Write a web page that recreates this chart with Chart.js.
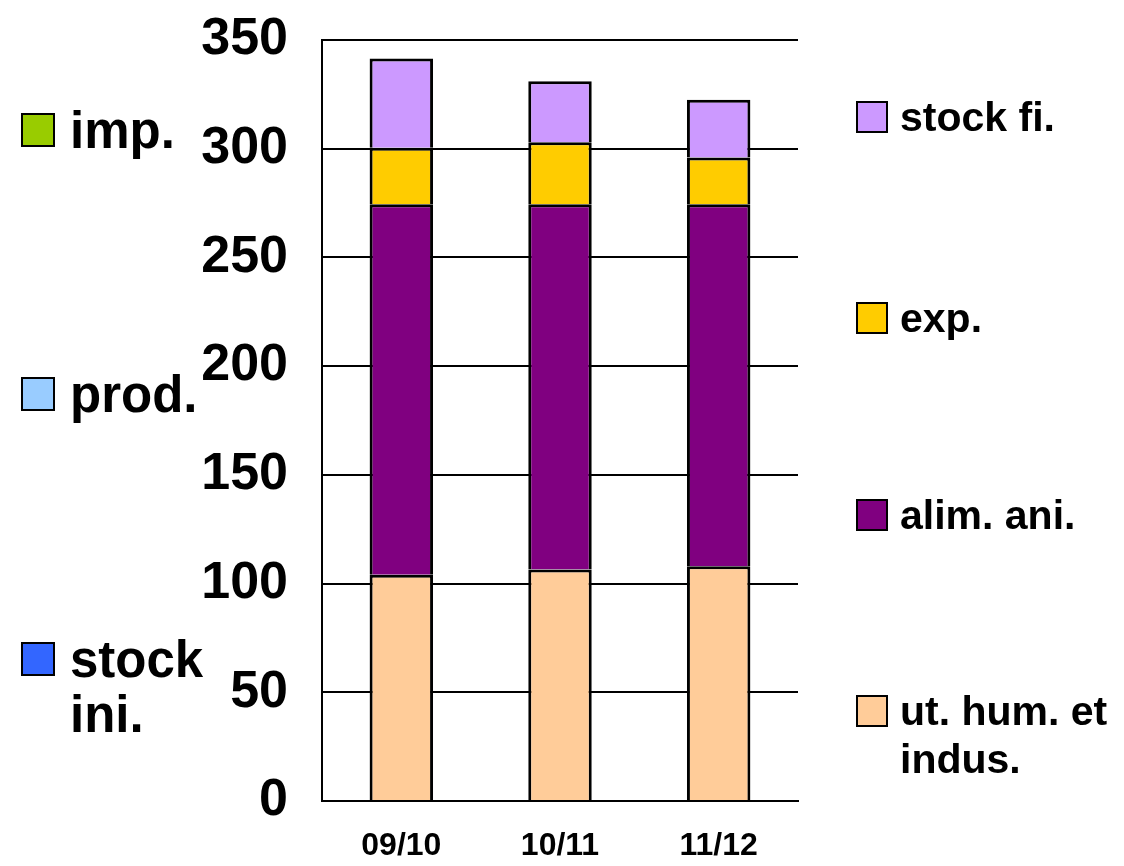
<!DOCTYPE html>
<html>
<head>
<meta charset="utf-8">
<script src="https://cdn.jsdelivr.net/npm/chart.js@4/dist/chart.umd.min.js"></script>
<style>
  html, body { margin: 0; padding: 0; background: #fff; }
  #wrap { position: relative; width: 1124px; height: 866px; font-family: "Liberation Sans", Arial, sans-serif; font-weight: bold; color: #000; }
  canvas { position: absolute; left: 0; top: 0; }
  .box { position: absolute; box-sizing: border-box; border: 2px solid #000; }
  .txt { position: absolute; white-space: nowrap; }
</style>
</head>
<body>
<div id="wrap">
  <canvas id="c" width="1124" height="866"></canvas>
</div>
<script>
// ---- data ----
const categories = ['09/10', '10/11', '11/12'];
const utHumIndus = [104, 106.5, 108];
const alimAni = [170.5, 168, 166.5];
const expVals = [26, 28.5, 21.5];
const stockFi = [41, 28, 26.5];
const yTickValues = [0, 50, 100, 150, 200, 250, 300, 350];

const seriesNames = ['ut. hum. et indus.', 'alim. ani.', 'exp.', 'stock fi.'];
const seriesColors = ['#FFCC99', '#800080', '#FFCC00', '#CC99FF'];
const leftLegendNames = ['imp.', 'prod.', 'stock ini.'];
const leftLegendColors = ['#99CC00', '#99CCFF', '#3366FF'];

// ---- chart ----
const seriesData = [utHumIndus, alimAni, expVals, stockFi];
const datasets = seriesNames.map((n, i) => ({
  label: n,
  data: seriesData[i],
  backgroundColor: seriesColors[i],
  borderColor: '#000',
  borderWidth: { top: 3, left: 3, right: 3, bottom: 0 },
  borderSkipped: false,
  categoryPercentage: 1.0,
  barPercentage: 0.4
}));

new Chart(document.getElementById('c'), {
  type: 'bar',
  data: { labels: categories, datasets: datasets },
  options: {
    responsive: false,
    animation: false,
    layout: { padding: { left: 0, right: 326, top: 40, bottom: 0 } },
    plugins: { legend: { display: false }, tooltip: { enabled: false } },
    scales: {
      x: {
        stacked: true,
        grid: { display: false },
        border: { display: true, color: '#000', width: 2 },
        ticks: { color: '#000', font: { family: 'Liberation Sans', weight: 'bold', size: 32 }, padding: 18, maxRotation: 0 },
        afterFit: (s) => { s.height = 65; s.paddingLeft = 0; s.paddingRight = 0; }
      },
      y: {
        stacked: true,
        min: 0,
        max: 350,
        afterBuildTicks: (s) => { s.ticks = yTickValues.map(v => ({ value: v })); },
        grid: { color: '#000', lineWidth: 2, drawTicks: false },
        border: { display: true, color: '#000', width: 2 },
        ticks: { color: '#000', font: { family: 'Liberation Sans', weight: 'bold', size: 52 }, padding: 34 },
        afterFit: (s) => { s.width = 322; s.paddingTop = 0; s.paddingBottom = 0; }
      }
    }
  }
});

// ---- legends (HTML text) ----
const wrap = document.getElementById('wrap');
function addItem(name, color, boxX, boxSize, textX, centerY, fontSize, lineH, maxW) {
  const b = document.createElement('div');
  b.className = 'box';
  b.style.left = boxX + 'px';
  b.style.top = (centerY - boxSize / 2) + 'px';
  b.style.width = boxSize + 'px';
  b.style.height = boxSize + 'px';
  b.style.background = color;
  wrap.appendChild(b);
  const t = document.createElement('div');
  t.className = 'txt';
  t.style.left = textX + 'px';
  t.style.top = (centerY - lineH / 2) + 'px';
  t.style.fontSize = fontSize + 'px';
  t.style.lineHeight = lineH + 'px';
  t.style.whiteSpace = 'normal';
  t.style.width = maxW + 'px';
  t.textContent = name;
  wrap.appendChild(t);
}
const leftCenters = [130, 394, 659];
leftLegendNames.forEach((n, i) => addItem(n, leftLegendColors[i], 21, 34, 70, leftCenters[i], 51, 55, 150));
const rightCenters = { 'stock fi.': 118, 'exp.': 319, 'alim. ani.': 516, 'ut. hum. et indus.': 712 };
seriesNames.forEach((n, i) => addItem(n, seriesColors[i], 856, 32, 900, rightCenters[n] - 1, 41, 48, 220));
</script>
</body>
</html>
